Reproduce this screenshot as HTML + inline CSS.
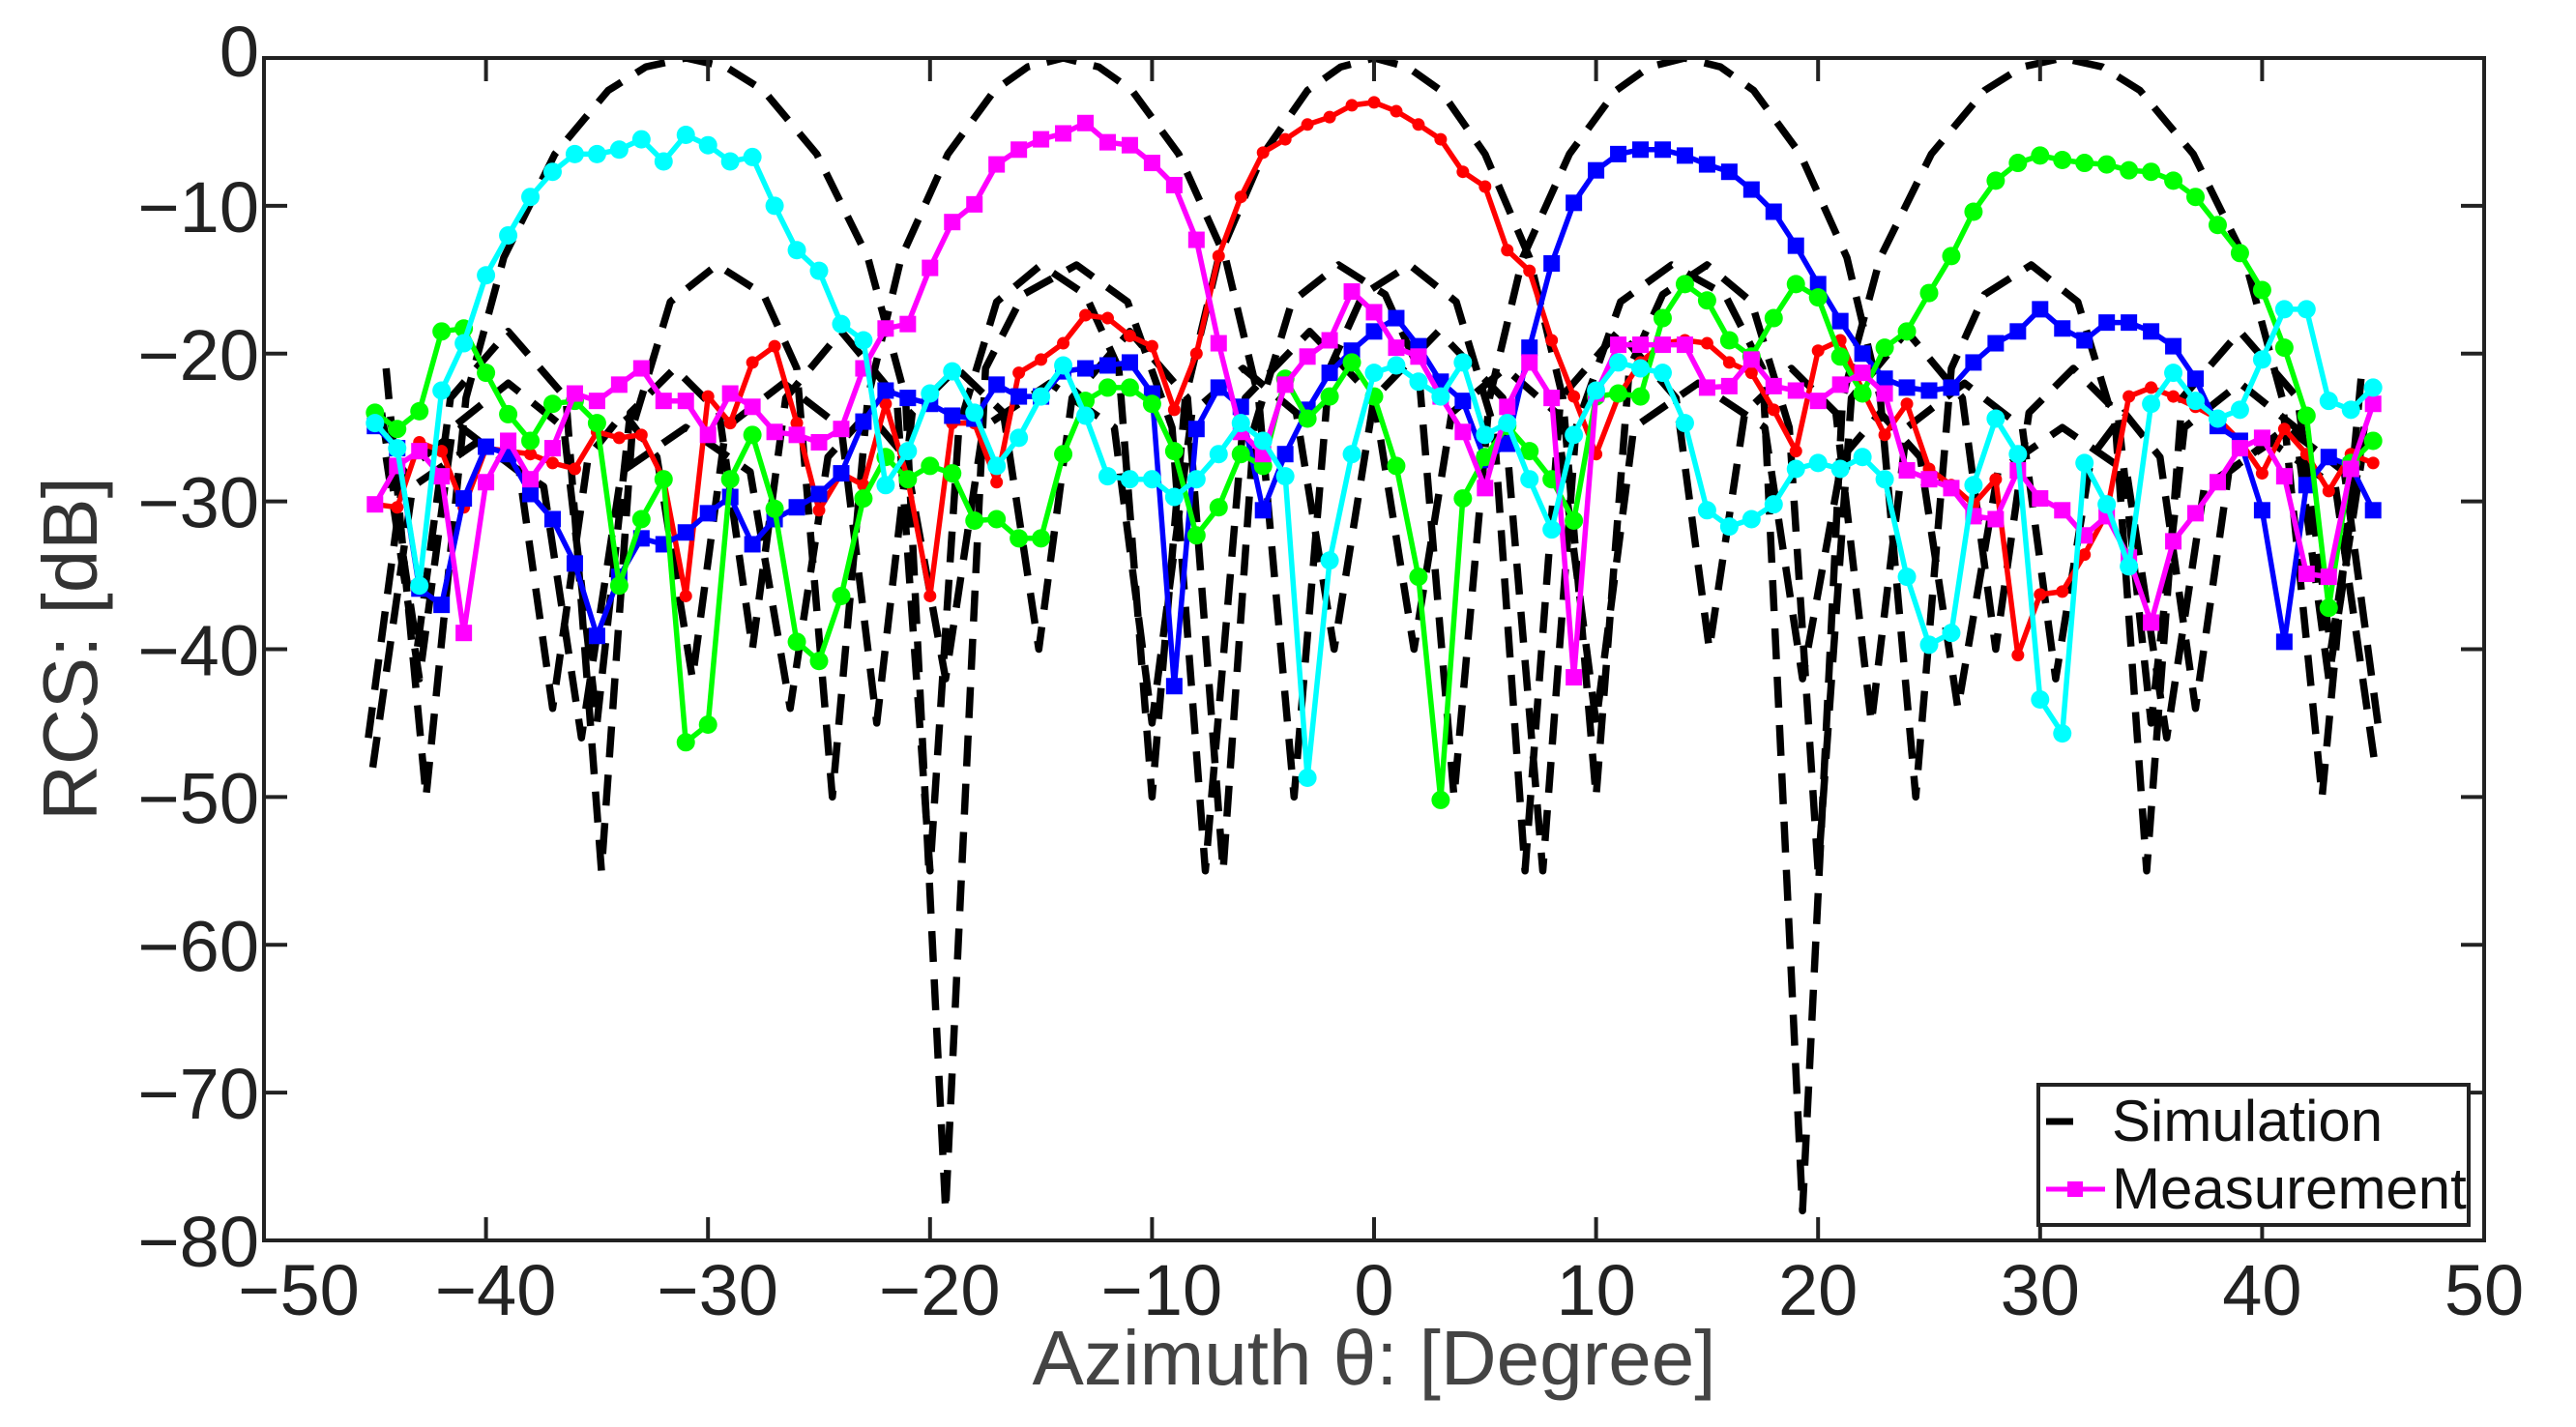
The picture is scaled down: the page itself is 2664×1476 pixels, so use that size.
<!DOCTYPE html>
<html>
<head>
<meta charset="utf-8">
<style>
html,body{margin:0;padding:0;background:#fff;}
svg{display:block;}
text{font-family:"Liberation Sans",Arial,sans-serif;}
</style>
</head>
<body>
<svg id="chart" width="2664" height="1476" viewBox="0 0 2664 1476" xmlns="http://www.w3.org/2000/svg">
  <rect x="0" y="0" width="2664" height="1476" fill="#fff"/>
  <g id="sim-layer"></g>
  <g id="meas-layer"></g>
  <g id="axes-layer"></g>
  <text x="1421" y="1432" font-size="80" fill="#444" text-anchor="middle">Azimuth θ: [Degree]</text>
  <text transform="translate(100,671) rotate(-90)" font-size="80" fill="#333" text-anchor="middle">RCS: [dB]</text>
  <g>
    <rect x="2108" y="1122" width="445" height="145" fill="#fff" stroke="#222" stroke-width="4"/>
    <line x1="2116" y1="1160" x2="2144" y2="1160" stroke="#000" stroke-width="7"/>
    <text x="2184" y="1180" font-size="60" fill="#111">Simulation</text>
    <line x1="2116" y1="1230" x2="2177" y2="1230" stroke="#ff00ff" stroke-width="5"/>
    <rect x="2138" y="1222" width="16" height="16" fill="#ff00ff"/>
    <text x="2184" y="1250" font-size="60" fill="#111">Measurement</text>
  </g>
</svg>
<script>
// ---- data ----
const xTicks = [-50,-40,-30,-20,-10,0,10,20,30,40,50];
const yTicks = [0,-10,-20,-30,-40,-50,-60,-70,-80];
const measStart = -45;

const simX1 = [-44.5,-43,-41.5,-39,-36.5,-35,-33.5,-31.5,-29.5,-28,-26.5,-24,-21.5,-20,-18.7,-17,-15,-13,-11.5,-10,-8.5,-7,-5,-3,-1.5,0,1.5,3,5,7,8.5,10,11.5,13,15,17,18.7,20,21.5,24,26.5,28,29.5,31.5,33.5,35,36.5,39,41.5,43,44.5];
const simY1 = [-27,-42,-25,-22,-25,-45,-24,-21,-24,-40,-23,-18.5,-23,-55,-25,-16.5,-14,-16,-21,-50,-23,-13.5,-6.5,-2.2,-0.6,0,-0.6,-2.2,-6.5,-13.5,-23,-50,-21,-16,-14,-16.5,-25,-55,-23,-18.5,-23,-40,-24,-21,-24,-45,-25,-22,-25,-42,-27];

const simX2 = [-45.3,-43.7,-41.1,-38.5,-37,-35.4,-33.8,-32.3,-30.7,-29.2,-26.6,-24,-22.4,-20.8,-18.8,-16.7,-15.1,-13.6,-11,-8.4,-6.8,-5.4,-3.7,-1.6,0.5,2,3.6,5.2,6.7,8.8,10.9,12.4,14,15.6,17.1,19.2,21.3,22.8,24.4,26,27.5,29.6,31.7,33.4,34.8,36.4,39,41.6,43.1,44.7];
const simY2 = [-46,-28,-25,-28,-44,-27,-24,-27,-42,-25,-22,-25,-45,-24,-21,-24,-40,-23,-18.5,-23,-55,-25,-16.5,-14,-16,-21,-50,-23,-13.5,-6.5,-2.2,-0.6,0,-0.6,-2.2,-6.5,-13.5,-23,-50,-21,-16,-14,-16.5,-25,-55,-23,-18.5,-23,-40,-24];

const simX3 = [-44.7,-43.1,-41.6,-39,-36.4,-34.8,-33.4,-31.7,-29.6,-27.5,-26,-24.4,-22.8,-21.3,-19.2,-17.1,-15.6,-14,-12.4,-10.9,-8.8,-6.7,-5.2,-3.6,-2,-0.5,1.6,3.7,5.4,6.8,8.4,11,13.6,15.1,16.7,18.8,20.8,22.4,24,26.6,29.2,30.7,32.3,33.8,35.4,37,38.5,41.1,43.7,45.3];
const simY3 = [-24,-40,-23,-18.5,-23,-55,-25,-16.5,-14,-16,-21,-50,-23,-13.5,-6.5,-2.2,-0.6,0,-0.6,-2.2,-6.5,-13.5,-23,-50,-21,-16,-14,-16.5,-25,-55,-23,-18.5,-23,-40,-24,-21,-24,-45,-25,-22,-25,-42,-27,-24,-27,-44,-28,-25,-28,-46];

const simX4 = [-45.1,-43.3,-40.4,-37.4,-35.7,-33.9,-31,-28.1,-26.3,-24.6,-22.8,-21.1,-19.3,-17.6,-14.6,-11.7,-10,-8.2,-5.9,-3.5,-1.8,0,2.9,5.8,7.6,9.1,11.1,13.4,15.8,17.5,19.3,21.1,22.8,25.1,27.5,29.2,31,32.8,34.5,36.9,39.2,40.9,42.7,44.5];
const simY4 = [-48,-29,-26,-29,-46,-28,-25,-28,-44,-27,-24,-27,-42,-25,-22,-25,-45,-24,-21,-24,-40,-23,-18.5,-23,-55,-25,-16.5,-14,-16,-21,-78,-23,-13.5,-6.5,-2.2,-0.6,0,-0.6,-2.2,-6.5,-13.5,-23,-50,-21];

const simX5 = [-44.5,-42.7,-40.9,-39.2,-36.9,-34.5,-32.8,-31,-29.2,-27.5,-25.1,-22.8,-21.1,-19.3,-17.5,-15.8,-13.4,-11.1,-9.1,-7.6,-5.8,-2.9,0,1.8,3.5,5.9,8.2,10,11.7,14.6,17.6,19.3,21.1,22.8,24.6,26.3,28.1,31,33.9,35.7,37.4,40.4,43.3,45.1];
const simY5 = [-21,-50,-23,-13.5,-6.5,-2.2,-0.6,0,-0.6,-2.2,-6.5,-13.5,-23,-78,-21,-16,-14,-16.5,-25,-55,-23,-18.5,-23,-40,-24,-21,-24,-45,-25,-22,-25,-42,-27,-24,-27,-44,-28,-25,-28,-46,-29,-26,-29,-48];

const redVals = [-30.2,-30.4,-26,-26.6,-30.4,-26.4,-26.6,-26.8,-27.4,-27.8,-25.3,-25.7,-25.5,-28.5,-36.4,-22.9,-24.7,-20.6,-19.5,-24.7,-30.6,-28.1,-28.9,-23.4,-28.5,-36.4,-24.7,-24.7,-28.7,-21.3,
-20.4,-19.3,-17.4,-17.6,-18.8,-19.5,-23.8,-20,-13.4,-9.4,-6.4,-5.5,-4.5,-4,-3.2,-3,-3.6,-4.5,-5.5,-7.7,-8.7,-13,-14.4,-19.1,-22.9,-26.8,-22.9,-20.6,-19.3,-19.1,-19.3,-20.6,
-21.3,-23.8,-26.6,-19.8,-19.1,-22.5,-25.5,-23.4,-27.8,-28.9,-30.2,-28.5,-40.4,-36.3,-36.1,-33.6,-30.8,-22.9,-22.3,-22.9,-23.6,-24.4,-25.9,-28.1,-25.1,-26.8,-29.3,-26.8,-27.4];

const blueVals = [-24.9,-26.4,-35.9,-37,-29.8,-26.3,-26.8,-29.5,-31.2,-34.2,-39.1,-35.1,-32.5,-32.9,-32.1,-30.8,-29.7,-32.9,-31.2,-30.4,-29.5,-28.1,-24.6,-22.5,-23,-23.4,-24.2,-24.4,-22.1,-22.9,
-22.9,-21.2,-21,-20.8,-20.6,-22.7,-42.5,-25.1,-22.3,-23.6,-30.6,-26.8,-23.8,-21.3,-19.8,-18.5,-17.6,-19.5,-21.9,-23.2,-27.2,-26.1,-19.6,-13.9,-9.8,-7.6,-6.5,-6.2,-6.2,-6.6,-7.2,-7.7,
-8.9,-10.4,-12.7,-15.3,-17.8,-20,-21.7,-22.3,-22.5,-22.3,-20.6,-19.3,-18.5,-17,-18.3,-19.1,-17.9,-17.9,-18.5,-19.5,-21.7,-24.9,-25.9,-30.6,-39.5,-28.9,-27,-27.6,-30.6];

const magentaVals = [-30.2,-27.6,-26.6,-28.3,-38.9,-28.7,-25.9,-28.5,-26.4,-22.7,-23.2,-22.1,-21,-23.2,-23.2,-25.5,-22.7,-23.6,-25.3,-25.5,-26,-25.1,-21,-18.3,-18,-14.2,-11.1,-9.9,-7.2,-6.2,
-5.5,-5.1,-4.4,-5.7,-5.9,-7.1,-8.6,-12.3,-19.3,-25.3,-26.8,-22.1,-20.2,-19.1,-15.8,-17.2,-19.6,-20.2,-22.9,-25.3,-29.1,-23.6,-20.6,-23,-41.9,-22.7,-19.4,-19.4,-19.4,-19.4,-22.3,-22.2,
-20.4,-22.2,-22.5,-23.2,-22.1,-21.3,-22.7,-27.9,-28.5,-29.1,-31,-31.2,-27.9,-29.8,-30.6,-32.3,-31,-33.8,-38.2,-32.7,-30.8,-28.7,-26.4,-25.7,-28.3,-34.9,-35.1,-27.8,-23.4];

const greenVals = [-24,-25.1,-23.9,-18.5,-18.3,-21.3,-24.1,-25.9,-23.4,-23.2,-24.7,-35.7,-31.2,-28.5,-46.3,-45.1,-28.5,-25.5,-30.5,-39.5,-40.8,-36.4,-29.8,-27,-28.5,-27.6,-28.1,-31.3,-31.2,-32.5,
-32.5,-26.8,-23.2,-22.3,-22.3,-23.4,-26.6,-32.3,-30.4,-26.8,-27.6,-21.7,-24.4,-22.9,-20.6,-22.9,-27.6,-35.1,-50.2,-29.8,-27,-24.9,-26.6,-28.5,-31.3,-22.9,-22.7,-22.9,-17.6,-15.3,-16.4,-19.1,
-20.2,-17.6,-15.3,-16.2,-20.2,-22.7,-19.6,-18.5,-15.9,-13.4,-10.4,-8.3,-7.1,-6.6,-6.9,-7.1,-7.2,-7.6,-7.7,-8.3,-9.4,-11.3,-13.2,-15.7,-19.6,-24.2,-37.2,-27.4,-25.9];

const cyanVals = [-24.7,-26.4,-35.7,-22.5,-19.3,-14.7,-12,-9.4,-7.7,-6.5,-6.5,-6.2,-5.5,-7,-5.2,-5.9,-7,-6.7,-10,-13,-14.4,-18,-19.1,-28.9,-26.6,-22.7,-21.2,-24,-27.6,-25.7,
-22.9,-20.8,-24.2,-28.3,-28.5,-28.5,-29.7,-28.5,-26.8,-24.7,-25.9,-28.3,-48.7,-34,-26.8,-21.3,-20.8,-21.9,-22.9,-20.6,-25.5,-24.7,-28.5,-31.9,-25.5,-22.5,-20.6,-21,-21.3,-24.7,-30.6,-31.7,
-31.2,-30.2,-27.8,-27.4,-27.8,-27,-28.5,-35.1,-39.7,-38.9,-28.9,-24.4,-26.8,-43.4,-45.7,-27.4,-30.2,-34.4,-23.4,-21.3,-23.2,-24.4,-23.8,-20.4,-17,-17,-23.2,-23.8,-22.3];

// ---- axes ----
const X0 = 273, X1 = 2569, Y0 = 60, Y1 = 1283;
function xs(v){ return X0 + (v + 50) / 100 * (X1 - X0); }
function ys(v){ return Y0 + (0 - v) / 80 * (Y1 - Y0); }
const NS = 'http://www.w3.org/2000/svg';
function mk(tag, attrs){ const e = document.createElementNS(NS, tag); for (const k in attrs) e.setAttribute(k, attrs[k]); return e; }

const svgEl = document.getElementById('chart');
const defs = mk('defs', {});
const cp = mk('clipPath', {id:'plotclip'});
cp.appendChild(mk('rect', {x:X0, y:Y0, width:X1-X0, height:Y1-Y0}));
defs.appendChild(cp);
svgEl.insertBefore(defs, svgEl.firstChild);

// simulation
const simLayer = document.getElementById('sim-layer');
simLayer.setAttribute('clip-path', 'url(#plotclip)');
const sims = [[simX1,simY1],[simX2,simY2],[simX3,simY3],[simX4,simY4],[simX5,simY5]];
sims.forEach(function(s, i){
  const pts = s[0].map(function(x, j){ return xs(x).toFixed(1) + ',' + ys(s[1][j]).toFixed(1); }).join(' ');
  const pl = mk('polyline', {points: pts, fill:'none', stroke:'#000', 'stroke-width':7.5, 'stroke-dasharray':'32 18', 'stroke-linejoin':'round'});
  
  
  simLayer.appendChild(pl);
});

// measurements
const measLayer = document.getElementById('meas-layer');
const series = [
  {name:'red', vals:redVals, color:'#ff0000', marker:'dot'},
  {name:'blue', vals:blueVals, color:'#0000ff', marker:'square'},
  {name:'green', vals:greenVals, color:'#00ff00', marker:'circle'},
  {name:'magenta', vals:magentaVals, color:'#ff00ff', marker:'square'},
  {name:'cyan', vals:cyanVals, color:'#00ffff', marker:'circle'}
];
series.forEach(function(s){
  const g = mk('g', {});
  
  
  const pts = s.vals.map(function(v, j){ return xs(measStart + j).toFixed(1) + ',' + ys(v).toFixed(1); }).join(' ');
  const pl = mk('polyline', {points: pts, fill:'none', stroke:s.color, 'stroke-width':5.5, 'stroke-linejoin':'round'});
  
  
  g.appendChild(pl);
  s.vals.forEach(function(v, j){
    const cx = xs(measStart + j), cy = ys(v);
    let m;
    if (s.marker === 'square') m = mk('rect', {x:cx-8.5, y:cy-8.5, width:17, height:17, fill:s.color});
    else if (s.marker === 'circle') m = mk('circle', {cx:cx, cy:cy, r:9.5, fill:s.color});
    else m = mk('circle', {cx:cx, cy:cy, r:6.5, fill:s.color});
    
    
    g.appendChild(m);
  });
  measLayer.appendChild(g);
});

// axes frame & ticks
const ax = document.getElementById('axes-layer');
const frame = mk('rect', {x:X0, y:Y0, width:X1-X0, height:Y1-Y0, fill:'none', stroke:'#222', 'stroke-width':4});


ax.appendChild(frame);
xTicks.forEach(function(t){
  const x = xs(t);
  const a = mk('line', {x1:x, y1:Y1, x2:x, y2:Y1-24, stroke:'#222', 'stroke-width':4});
  
  
  ax.appendChild(a);
  const b = mk('line', {x1:x, y1:Y0, x2:x, y2:Y0+24, stroke:'#222', 'stroke-width':4});
  
  
  ax.appendChild(b);
  const lb = mk('text', {x: x + (t === -50 ? 36 : (t < 0 ? 10 : 0)), y:1360, 'font-size':74, fill:'#222', 'text-anchor':'middle'});
  lb.textContent = t < 0 ? '\u2212' + Math.abs(t) : String(t);
  
  
  ax.appendChild(lb);
});
yTicks.forEach(function(t){
  const y = ys(t);
  const a = mk('line', {x1:X0, y1:y, x2:X0+24, y2:y, stroke:'#222', 'stroke-width':4});
  
  
  ax.appendChild(a);
  const b = mk('line', {x1:X1, y1:y, x2:X1-24, y2:y, stroke:'#222', 'stroke-width':4});
  
  
  ax.appendChild(b);
  const lb = mk('text', {x:268, y:y + 27 - (t === 0 ? 8 : 0), 'font-size':74, fill:'#222', 'text-anchor':'end'});
  lb.textContent = t < 0 ? '\u2212' + Math.abs(t) : String(t);
  
  
  ax.appendChild(lb);
});
</script>
</body>
</html>
